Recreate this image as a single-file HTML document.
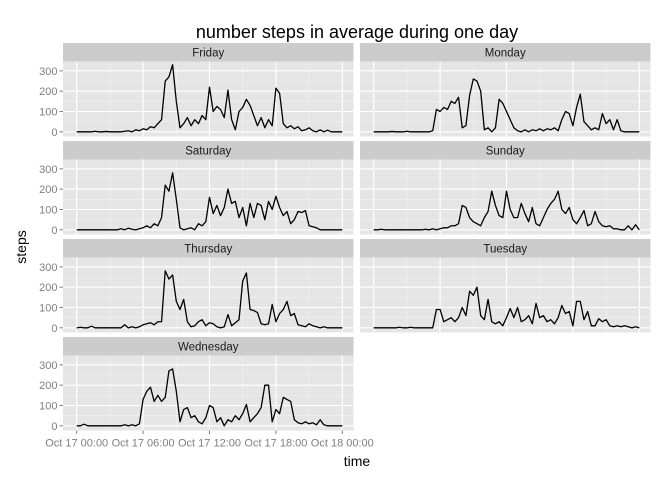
<!DOCTYPE html>
<html><head><meta charset="utf-8"><style>
html,body{margin:0;padding:0;background:#fff}
svg{display:block;font-family:"Liberation Sans",sans-serif}
</style></head><body>
<svg id="chart" width="672" height="480" viewBox="0 0 672 480" xmlns="http://www.w3.org/2000/svg">
<text x="357" y="38" text-anchor="middle" font-size="18" fill="#000">number steps in average during one day</text>
<text x="357" y="466" text-anchor="middle" font-size="14" fill="#000">time</text>
<text transform="translate(26,247) rotate(-90)" text-anchor="middle" font-size="14" fill="#000">steps</text>
</svg>
<script>
const days = ["Friday","Monday","Saturday","Sunday","Thursday","Tuesday","Wednesday"];
const yTicks = [0,100,200,300];
const xTickLabels = ["Oct 17 00:00","Oct 17 06:00","Oct 17 12:00","Oct 17 18:00","Oct 18 00:00"];
const xTickHours = [0,6,12,18,24];
const stepMinutes = 20;
const friday = [0,0,0,0,0,3,0,0,2,0,0,0, 0,3,5,0,10,5, 15,10,25,20,40,60, 250,270,330, 150,20,40, 70,30,60, 40,80,60, 220,100,125, 110,70,205, 60,10,100, 120,160,130, 80,30,70, 20,60,30, 215,190,40, 20,30,15, 25,5,10, 20,5,0, 10,0,8, 0,0,0,0];
const saturday = [0,0,0,0,0,0,0,0,0,0,0,0, 5,0,8,3,0,5, 10,20,10,30,20,60, 220,190,280, 150,10,0, 5,10,0, 30,20,40, 160,80,120, 70,110,200, 130,140,60, 110,20,130, 60,130,120, 50,140,100, 165,110,70, 90,30,50, 90,85,95, 20,15,10, 0,0,0, 0,0,0,0];
const thursday = [0,3,0,0,8,0,0,0,0,0,0,0, 0,15,0,5,0,5, 15,20,25,15,30,30, 280,240,260, 130,90,140, 30,5,10, 30,40,10, 25,20,5, 0,5,65, 10,25,40, 230,270,90, 85,75,20, 15,20,115, 30,70,90, 130,60,70, 15,10,5, 20,10,5, 0,5,0, 0,0,0,0];
const wednesday = [0,0,8,0,0,0,0,0,0,0,0,0, 0,5,0,5,0,10, 130,170,190,120,150,120, 140,270,280, 170,20,80, 90,40,50, 20,10,40, 100,90,20, 40,0,30, 20,50,30, 60,105,20, 40,60,90, 200,200,20, 80,60,140, 130,120,30, 15,10,20, 10,15,5, 30,5,0, 0,0,0,0];
const monday = [0,0,0,0,0,2,0,0,0,3,0,0, 0,0,0,0,5,110, 100,120,110,150,140,170, 20,30,180, 260,250,200, 10,20,0, 20,160,140, 100,60,20, 5,0,10, 0,10,5, 15,5,15, 10,20,5, 60,100,90, 30,120,185, 50,30,10, 20,10,90, 40,60,10, 60,5,0, 0,0,0,0];
const sunday = [0,0,3,0,0,0,0,0,0,0,0,0, 0,0,3,0,5,0, 5,10,10,20,20,30, 120,110,60, 40,30,20, 60,90,190, 120,70,60, 190,100,60, 60,130,80, 40,110,30, 20,60,100, 130,150,190, 100,80,110, 50,30,60, 95,20,30, 90,40,20, 15,20,5, 5,0,0, 20,0,25,0];
const tuesday = [0,0,0,0,0,0,0,3,0,0,3,0, 0,0,0,0,0,90, 90,30,40,50,30,50, 100,60,180, 160,200,60, 40,140,30, 20,30,10, 50,95,50, 100,30,40, 60,20,120, 50,60,30, 40,20,50, 110,70,80, 10,130,130, 40,80,10, 10,45,30, 40,10,5, 10,5,10, 5,0,5,0];
const series = [friday, monday, saturday, sunday, thursday, tuesday, wednesday];

const NS = "http://www.w3.org/2000/svg";
const svg = document.getElementById("chart");
const colX = [63, 360], panelW = 290.5, stripH = 18.5, panelH = 75, rowY0 = 43, rowStep = 98;
const yMin = -23, yMax = 346, xPadL = 13.7, xSpan = 265.6;
function mk(tag, attrs){const e=document.createElementNS(NS,tag);for(const k in attrs)e.setAttribute(k,attrs[k]);return e;}

days.forEach((day, idx) => {
  const col = idx % 2, row = Math.floor(idx / 2);
  const px = colX[col], sy = rowY0 + row * rowStep, py = sy + stripH;
  const xs = h => px + xPadL + h / 24 * xSpan;
  const ys = v => py + panelH - (v - yMin) / (yMax - yMin) * panelH;
  const slug = day.toLowerCase();
  const g = mk("g", {});
  
  
  svg.appendChild(g);
  const strip = mk("rect", {x:px, y:sy, width:panelW, height:stripH, fill:"#CCCCCC"});
  
  
  g.appendChild(strip);
  const st = mk("text", {x:px+panelW/2, y:sy+13.5, "text-anchor":"middle", "font-size":"11.5", fill:"#1a1a1a"});
  st.textContent = day;
  
  
  g.appendChild(st);
  const bg = mk("rect", {x:px, y:py, width:panelW, height:panelH, fill:"#E5E5E5"});
  
  
  g.appendChild(bg);
  [50,150,250].forEach(v=>{const l=mk("line",{x1:px,x2:px+panelW,y1:ys(v),y2:ys(v),stroke:"#F2F2F2","stroke-width":0.6});
    
    
    g.appendChild(l);});
  [3,9,15,21].forEach(h=>{const l=mk("line",{x1:xs(h),x2:xs(h),y1:py,y2:py+panelH,stroke:"#F2F2F2","stroke-width":0.6});
    
    
    g.appendChild(l);});
  yTicks.forEach(v=>{const l=mk("line",{x1:px,x2:px+panelW,y1:ys(v),y2:ys(v),stroke:"#FFFFFF","stroke-width":1.1});
    
    
    g.appendChild(l);});
  xTickHours.forEach(h=>{const l=mk("line",{x1:xs(h),x2:xs(h),y1:py,y2:py+panelH,stroke:"#FFFFFF","stroke-width":1.1});
    
    
    g.appendChild(l);});
  const data = series[idx];
  const d = data.map((v,i)=>(i?"L":"M")+xs(i*stepMinutes/60).toFixed(2)+","+ys(v).toFixed(2)).join("");
  const path = mk("path", {d:d, fill:"none", stroke:"#000", "stroke-width":1.3, "stroke-linejoin":"round"});
  
  
  g.appendChild(path);
  if (col === 0) {
    yTicks.forEach(v=>{
      const t=mk("line",{x1:px-3.5,x2:px,y1:ys(v),y2:ys(v),stroke:"#7F7F7F","stroke-width":1});
      
      
      g.appendChild(t);
      const tl=mk("text",{x:px-5.5,y:ys(v)+4,"text-anchor":"end","font-size":"11",fill:"#7F7F7F"});
      tl.textContent=v;
      
      
      g.appendChild(tl);
    });
  }
  if (idx === days.length - 1) {
    xTickHours.forEach((h,i)=>{
      const t=mk("line",{x1:xs(h),x2:xs(h),y1:py+panelH,y2:py+panelH+3.5,stroke:"#7F7F7F","stroke-width":1});
      
      
      g.appendChild(t);
      const tl=mk("text",{x:xs(h),y:py+panelH+16,"text-anchor":"middle","font-size":"11",fill:"#7F7F7F"});
      tl.textContent=xTickLabels[i];
      
      
      g.appendChild(tl);
    });
  }
});
</script>
</body></html>
